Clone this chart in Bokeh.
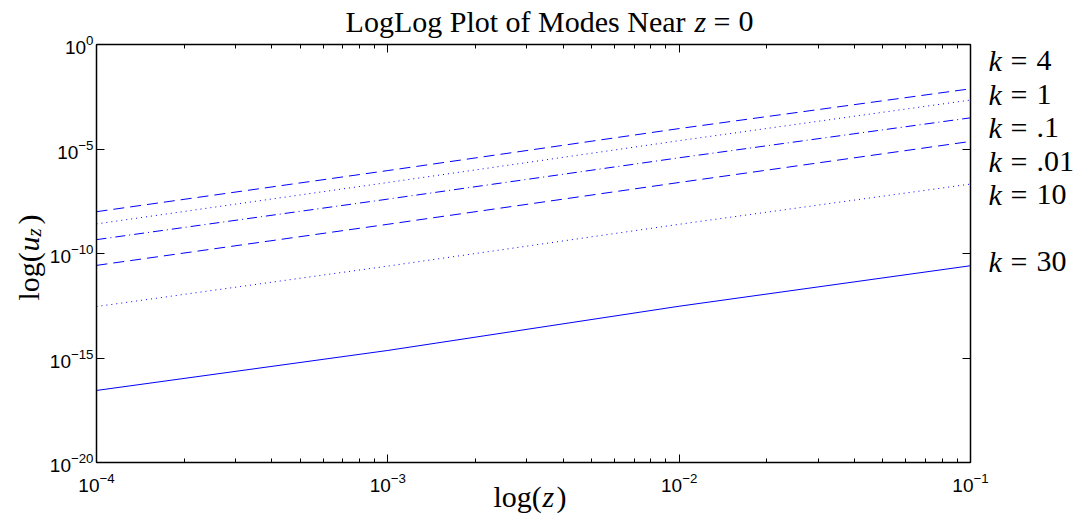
import math
from bokeh.plotting import figure
from bokeh.models import (LogAxis, LogTicker, FixedTicker, LogTickFormatter, CustomJSTickFormatter,
                          ColumnDataSource, Range1d, GridBox)
from bokeh.core.properties import value
from bokeh.embed import file_html
from bokeh.resources import INLINE

# ---- data ----
z = [1e-4, 1e-3, 1e-2, 1e-1]
u_k4 = [1.0e-8, 9.3e-7, 9.5e-5, 7.6e-3]
u_k1 = [2.6e-9, 2.5e-7, 2.5e-5, 2.2e-3]
u_k01 = [4.6e-10, 4.0e-8, 3.8e-6, 3.1e-4]
u_k001 = [2.7e-11, 2.5e-9, 2.5e-7, 2.3e-5]
u_k10 = [2.9e-13, 2.5e-11, 2.5e-9, 2.1e-7]
u_k30 = [2.8e-17, 2.3e-15, 3.0e-13, 2.6e-11]
k_values = ["4", "1", ".1", ".01", "10", "30"]
y_ticks = [1e-20, 1e-15, 1e-10, 1e-5, 1e0]
title_main = "LogLog Plot of Modes Near"

# ---- geometry ----
W, H = 1086, 522
L, R, T, B = 96, 116, 44, 60

p = figure(width=W, height=H, x_axis_type="log", y_axis_type="log",
           x_range=(1e-4, 1e-1), y_range=(1e-20, 1e0),
           output_backend="svg", toolbar_location=None,
           min_border_left=L, min_border_right=R, min_border_top=T, min_border_bottom=B)
p.outline_line_color = None
p.xgrid.visible = False
p.ygrid.visible = False
p.background_fill_color = "white"
p.border_fill_color = "white"

BLUE = "#0000ff"
p.line(z, u_k4, line_color=BLUE, line_width=1, line_dash="11 6")
p.line(z, u_k1, line_color=BLUE, line_width=1, line_dash="1 4")
p.line(z, u_k01, line_color=BLUE, line_width=1, line_dash="10 4 1 4")
p.line(z, u_k001, line_color=BLUE, line_width=1, line_dash="11 6")
p.line(z, u_k10, line_color=BLUE, line_width=1, line_dash="1 4")
p.line(z, u_k30, line_color=BLUE, line_width=1)

TICK_FONT = "Liberation Sans"


def style_axis(ax):
    ax.axis_line_color = "black"
    ax.axis_line_width = 1.5
    ax.major_tick_in = 8
    ax.major_tick_out = 0
    ax.minor_tick_in = 4
    ax.minor_tick_out = 0
    ax.major_tick_line_color = "black"
    ax.minor_tick_line_color = "black"
    ax.major_label_text_font = TICK_FONT
    ax.major_label_text_font_size = "19px"
    ax.major_label_text_color = "black"


xa = p.xaxis[0]
xa.ticker = LogTicker(num_minor_ticks=10)
xa.formatter = LogTickFormatter()
style_axis(xa)
xa.major_label_standoff = 10

ya = p.yaxis[0]
ya.ticker = FixedTicker(ticks=y_ticks, minor_ticks=[])
ya.formatter = LogTickFormatter()
style_axis(ya)
ya.major_label_standoff = 3

top = LogAxis(ticker=LogTicker(num_minor_ticks=10), formatter=CustomJSTickFormatter(code="return ''"))
style_axis(top)
p.add_layout(top, "above")
right = LogAxis(ticker=FixedTicker(ticks=y_ticks, minor_ticks=[]), formatter=CustomJSTickFormatter(code="return ''"))
style_axis(right)
p.add_layout(right, "right")

# ---- transparent overlay with the mixed-style texts (canvas pixel coordinates) ----
ov = figure(width=W, height=H, x_range=Range1d(0, W), y_range=Range1d(H, 0),
            output_backend="svg", toolbar_location=None,
            x_axis_location=None, y_axis_location=None, min_border=0)
ov.outline_line_color = None
ov.xgrid.visible = False
ov.ygrid.visible = False
ov.background_fill_color = None
ov.border_fill_color = None

if hasattr(ov, "frame_align"):
    ov.frame_align = False
    p.frame_align = False

pieces = dict(x=[], y=[], text=[], style=[], size=[], align=[], angle=[])
SHIFT = 9  # baseline correction (pixels, towards the top of the glyphs)


def lab(text, px, py, size=30, italic=False, align="left", angle=0.0):
    if angle:
        px = px - SHIFT
    else:
        py = py - SHIFT
    pieces["x"].append(px)
    pieces["y"].append(py)
    pieces["text"].append(text)
    pieces["style"].append("italic" if italic else "normal")
    pieces["size"].append(f"{size}px")
    pieces["align"].append(align)
    pieces["angle"].append(angle)


# title
lab(title_main, 685, 30, align="right")
lab("z", 694, 30, italic=True)
lab("=", 713, 30)
lab("0", 738, 30)

# x axis label
lab("log(", 493, 505)
lab("z", 542, 505, italic=True)
lab(")", 556, 505)

# y axis label (rotated)
ang = math.pi / 2
lab("log(", 37, 300, angle=ang)
lab("u", 37, 251, italic=True, angle=ang)
lab("z", 42, 236, size=21, italic=True, angle=ang)
lab(")", 37, 224, angle=ang)

# curve labels
baselines = [69, 103, 136, 170, 203, 270]
for kv, bl in zip(k_values, baselines):
    lab("k", 988, bl, italic=True)
    lab("=", 1010, bl)
    lab(kv, 1036, bl)

src = ColumnDataSource(pieces)
ov.text(x="x", y="y", text="text", source=src, text_font=value("Liberation Serif"),
        text_font_size="size", text_font_style="style", text_align="align",
        text_baseline="alphabetic", angle="angle", text_color="black")

layout = GridBox(children=[(p, 0, 0), (ov, 0, 0)], width=W, height=H)

open("out.html", "w").write(file_html(layout, INLINE))
